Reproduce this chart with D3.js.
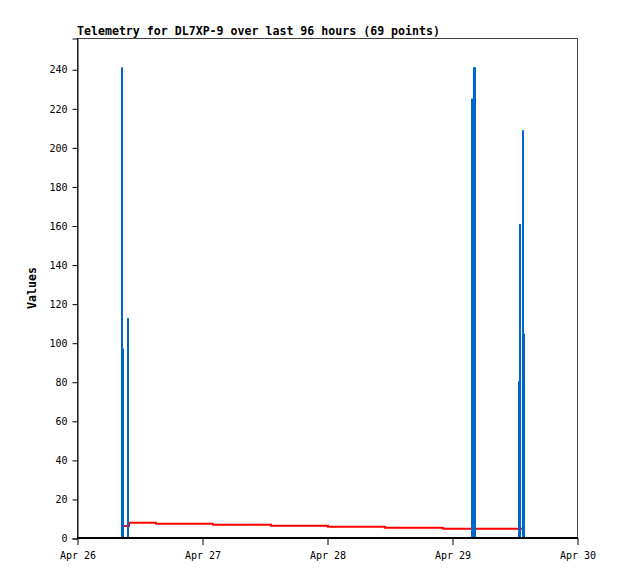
<!DOCTYPE html>
<html>
<head>
<meta charset="utf-8">
<script src="https://cdn.jsdelivr.net/npm/d3@7"></script>
<style>
html,body{margin:0;padding:0;background:#fff;}
svg{display:block;}
</style>
</head>
<body>
<svg id="chart" width="618" height="579"></svg>
<script>
// ---- data ----
const title = "Telemetry for DL7XP-9 over last 96 hours (69 points)";
const yLabel = "Values";
const xTickDates = ["2024-04-26T00:00Z","2024-04-27T00:00Z","2024-04-28T00:00Z","2024-04-29T00:00Z","2024-04-30T00:00Z"];
const yTickValues = [0,20,40,60,80,100,120,140,160,180,200,220,240];
// blue impulse series
const barTimes = ["2024-04-26T08:38Z","2024-04-26T08:50Z","2024-04-26T09:44Z",
                  "2024-04-29T03:50Z","2024-04-29T04:13Z","2024-04-29T04:25Z",
                  "2024-04-29T12:50Z","2024-04-29T13:04Z","2024-04-29T13:38Z","2024-04-29T13:53Z"];
const barValues = [241, 97, 112.6, 225, 241, 241, 80.3, 160.8, 208.8, 104.6];
// red step series
const lineTimes = ["2024-04-26T09:01Z","2024-04-26T09:59Z","2024-04-26T15:10Z","2024-04-27T02:06Z",
                   "2024-04-27T13:15Z","2024-04-28T00:12Z","2024-04-28T11:06Z","2024-04-28T22:18Z","2024-04-29T13:40Z"];
const lineValues = [6.1, 7.8, 7.3, 6.8, 6.3, 5.8, 5.3, 4.8, 4.8];

// ---- chart ----
const svg = d3.select("#chart");
const L = 77, R = 577, T = 38, B = 538;
const x = d3.scaleUtc().domain([new Date(xTickDates[0]), new Date(xTickDates[xTickDates.length-1])]).range([L, R]);
const y = d3.scaleLinear().domain([0, 256]).range([B, T]);
const mono = "'DejaVu Sans Mono', 'Liberation Mono', monospace";

// frame
svg.append("rect").attr("x", L+0.5).attr("y", T+0.5).attr("width", R-L).attr("height", B-T)
  .attr("fill", "#fff").attr("stroke", "#444").attr("stroke-width", 1);

// red step line
const lineData = lineTimes.map((t,i)=>({t:new Date(t), v:lineValues[i]}));
svg.append("path").datum(lineData)
  .attr("d", d3.line().curve(d3.curveStepAfter).x(d=>x(d.t)).y(d=>y(d.v)))
  .attr("fill","none").attr("stroke","#ff0000").attr("stroke-width",2);

// blue impulses
const barData = barTimes.map((t,i)=>({t:new Date(t), v:barValues[i]}));
svg.append("g").selectAll("rect").data(barData).join("rect")
  .attr("x", d=>Math.round(x(d.t))-1).attr("width", 2)
  .attr("y", d=>y(d.v)).attr("height", d=>B-y(d.v))
  .attr("fill","#0066cc");

// y axis
const yAxis = d3.axisLeft(y).tickValues(yTickValues).tickSize(5).tickPadding(5).tickFormat(d3.format("d"));
const gy = svg.append("g").attr("transform", `translate(${L+0.5},0.5)`).call(yAxis);
gy.select(".domain").attr("stroke","#000");
gy.selectAll(".tick line").attr("stroke","#000");
gy.selectAll("text").attr("font-family", mono).attr("font-size", "10px").attr("fill","#000");

// x axis
const xAxis = d3.axisBottom(x).tickValues(xTickDates.map(d=>new Date(d))).tickSize(7).tickPadding(7)
  .tickFormat(d3.utcFormat("%b %d"));
const gx = svg.append("g").attr("transform", `translate(0.5,${B})`).call(xAxis);
gx.select(".domain").remove();
gx.selectAll(".tick line").attr("stroke","#000");
gx.selectAll("text").attr("font-family", mono).attr("font-size", "10px").attr("fill","#000");
svg.append("line").attr("x1", L).attr("x2", R+1).attr("y1", B).attr("y2", B)
  .attr("stroke","#000").attr("stroke-width",2);

// title
svg.append("text").attr("x", L).attr("y", 35).text(title)
  .attr("font-family", mono).attr("font-weight","bold").attr("font-size","11.6px").attr("fill","#000");

// y label
svg.append("text").attr("transform","translate(36,288) rotate(-90)").attr("text-anchor","middle")
  .text(yLabel).attr("font-family", mono).attr("font-weight","bold").attr("font-size","11.6px").attr("fill","#000");
</script>
</body>
</html>
